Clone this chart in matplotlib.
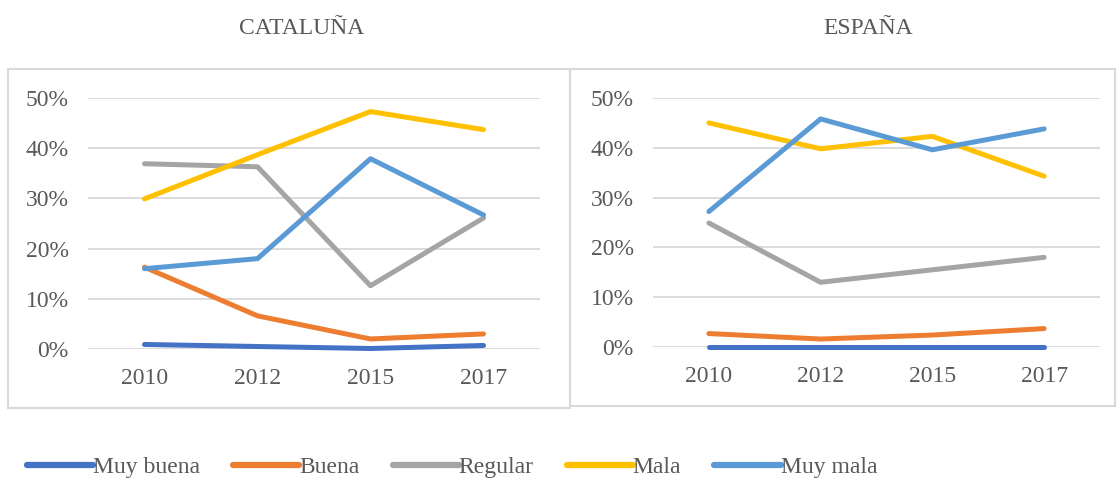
import matplotlib
matplotlib.use("Agg")
import matplotlib.pyplot as plt
from matplotlib.patches import Rectangle
from matplotlib.lines import Line2D

years = ["2010", "2012", "2015", "2017"]
series_names = ["Muy buena", "Buena", "Regular", "Mala", "Muy mala"]

# Cataluña (fractions)
cat_muy_buena = [0.009, 0.005, 0.001, 0.007]
cat_buena = [0.163, 0.066, 0.020, 0.030]
cat_regular = [0.369, 0.363, 0.126, 0.261]
cat_mala = [0.299, 0.387, 0.473, 0.437]
cat_muy_mala = [0.160, 0.180, 0.379, 0.267]

# España (fractions)
esp_muy_buena = [0.001, 0.001, 0.001, 0.001]
esp_buena = [0.027, 0.016, 0.024, 0.037]
esp_regular = [0.249, 0.130, 0.155, 0.180]
esp_mala = [0.450, 0.398, 0.423, 0.343]
esp_muy_mala = [0.272, 0.458, 0.396, 0.438]

colors = ["#4472C4", "#ED7D31", "#A5A5A5", "#FFC000", "#5B9BD5"]
text_color = "#595959"
grid_color = "#D9D9D9"

plt.rcParams['font.family'] = ['Liberation Serif', 'DejaVu Serif']

W, H = 1117, 483
fig = plt.figure(figsize=(W / 100, H / 100), dpi=100)

def px_rect(x0, y0, x1, y1):
    return [x0 / W, 1 - y1 / H, (x1 - x0) / W, (y1 - y0) / H]

# panel borders
for (x0, y0, x1, y1) in [(8, 69, 570, 408), (570, 69, 1115, 406)]:
    fig.patches.append(Rectangle((x0 / W, 1 - y1 / H), (x1 - x0) / W, (y1 - y0) / H,
                                 transform=fig.transFigure, fill=False,
                                 edgecolor=grid_color, linewidth=1.5))

panels = [
    ("CATALUÑA", [cat_muy_buena, cat_buena, cat_regular, cat_mala, cat_muy_mala],
     px_rect(88, 98, 540, 349), 302),
    ("ESPAÑA", [esp_muy_buena, esp_buena, esp_regular, esp_mala, esp_muy_mala],
     px_rect(653, 98, 1100, 347), 868),
]

x = list(range(len(years)))
for title, data, rect, tx in panels:
    ax = fig.add_axes(rect)
    for vals, c, name in zip(data, colors, series_names):
        ax.plot(x, vals, color=c, linewidth=3.6, solid_capstyle='round', label=name,
                zorder=3, clip_on=False)
    ax.set_xlim(-0.5, 3.5)
    ax.set_ylim(0, 0.5)
    ax.set_yticks([0, 0.1, 0.2, 0.3, 0.4, 0.5])
    ax.set_yticklabels(["0%", "10%", "20%", "30%", "40%", "50%"])
    ax.set_xticks(x)
    ax.set_xticklabels(years)
    ax.grid(axis='y', color=grid_color, linewidth=1.3, zorder=0)
    ax.set_axisbelow(True)
    for s in ax.spines.values():
        s.set_visible(False)
    ax.tick_params(length=0, labelsize=17, colors=text_color)
    ax.tick_params(axis='y', pad=14)
    ax.tick_params(axis='x', pad=14)
    fig.text(tx / W, 1 - 28 / H, title, ha='center', va='center', fontsize=17, color=text_color)

handles = [Line2D([0], [0], color=c, linewidth=4.5, solid_capstyle='round') for c in colors]
fig.legend(handles, series_names, loc='center', bbox_to_anchor=(452 / W, 1 - 467 / H),
           ncol=5, frameon=False, fontsize=17, handlelength=2.8, handletextpad=0.0,
           columnspacing=1.4, labelcolor=text_color)

fig.savefig("out.png", dpi=100)
